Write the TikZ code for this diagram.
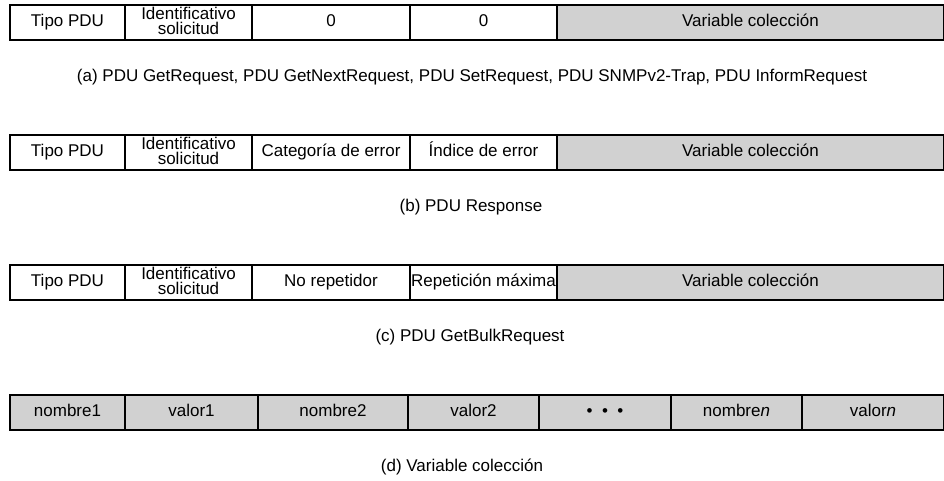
\documentclass[tikz,border=0pt]{standalone}
\usepackage{fontspec}
\setmainfont{Liberation Sans}
\usepackage{tikz}
\usetikzlibrary{positioning}
\tikzset{
    cell/.style={rectangle, draw, line width=0.9pt, minimum height=17.5pt, inner sep=0pt, outer sep=0pt, align=center, text height=6.2pt, text depth=1.8pt, font=\fontsize{8.5}{7.6}\selectfont},
    cell_two/.style={cell, text height=13.6pt, text depth=1.6pt},
    cell_gray/.style={cell, fill=black!18},
    caption/.style={inner sep=0pt, font=\fontsize{8.5}{10}\selectfont}
}

\begin{document}
\begin{tikzpicture}[x=0.5pt, y=-0.5pt, node distance=0pt]
    \useasboundingbox (0,0) rectangle (944,481);
    % Row (a)
    \node (a_tipo) [cell, anchor=north west, minimum width=57.5pt] at (10,5) {Tipo PDU};
    \node (a_id) [cell_two, right=of a_tipo, minimum width=63.5pt] {Identificativo\\solicitud};
    \node (a_cero1) [cell, right=of a_id, minimum width=79pt] {0};
    \node (a_cero2) [cell, right=of a_cero1, minimum width=73.5pt] {0};
    \node (a_var) [cell_gray, right=of a_cero2, minimum width=193.5pt] {Variable colección};
    \node (a_cap) [caption] at (472,77) {(a) PDU GetRequest, PDU GetNextRequest, PDU SetRequest, PDU SNMPv2-Trap, PDU InformRequest};

    % Row (b)
    \node (b_tipo) [cell, anchor=north west, minimum width=57.5pt] at (10,135) {Tipo PDU};
    \node (b_id) [cell_two, right=of b_tipo, minimum width=63.5pt] {Identificativo\\solicitud};
    \node (b_cat) [cell, right=of b_id, minimum width=79pt] {Categoría de error};
    \node (b_ind) [cell, right=of b_cat, minimum width=73.5pt] {Índice de error};
    \node (b_var) [cell_gray, right=of b_ind, minimum width=193.5pt] {Variable colección};
    \node (b_cap) [caption] at (471,207) {(b) PDU Response};

    % Row (c)
    \node (c_tipo) [cell, anchor=north west, minimum width=57.5pt] at (10,265) {Tipo PDU};
    \node (c_id) [cell_two, right=of c_tipo, minimum width=63.5pt] {Identificativo\\solicitud};
    \node (c_norep) [cell, right=of c_id, minimum width=79pt] {No repetidor};
    \node (c_max) [cell, right=of c_norep, minimum width=73.5pt] {Repetición máxima};
    \node (c_var) [cell_gray, right=of c_max, minimum width=193.5pt] {Variable colección};
    \node (c_cap) [caption] at (470,337) {(c) PDU GetBulkRequest};

    % Row (d)
    \node (d_nom1) [cell_gray, anchor=north west, minimum width=57.5pt] at (10,395) {nombre1};
    \node (d_val1) [cell_gray, right=of d_nom1, minimum width=66.5pt] {valor1};
    \node (d_nom2) [cell_gray, right=of d_val1, minimum width=75pt] {nombre2};
    \node (d_val2) [cell_gray, right=of d_nom2, minimum width=65.5pt] {valor2};
    \node (d_dots) [cell_gray, right=of d_val2, minimum width=66pt] {\textbullet\ \ \textbullet\ \ \textbullet};
    \node (d_nomn) [cell_gray, right=of d_dots, minimum width=65.5pt] {nombre\textit{n}};
    \node (d_valn) [cell_gray, right=of d_nomn, minimum width=71pt] {valor\textit{n}};
    \node (d_cap) [caption] at (462,467) {(d) Variable colección};
\end{tikzpicture}
\end{document}
